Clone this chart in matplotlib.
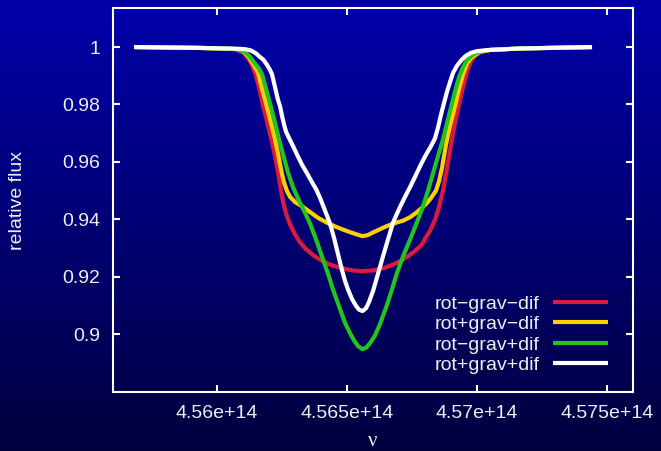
import numpy as np
import matplotlib
matplotlib.use('Agg')
import matplotlib.pyplot as plt

# frequencies in units of 1e14 Hz, fluxes
nu_red = [4.556808, 4.559346, 4.560731, 4.561000, 4.561192, 4.561346, 4.561461, 4.561615,
          4.561769, 4.561923, 4.562077, 4.562231, 4.562346, 4.562461, 4.562538, 4.562654,
          4.562808, 4.563000, 4.563192, 4.563423, 4.563692, 4.563961, 4.564346, 4.564731,
          4.565192, 4.565596, 4.566038, 4.566461, 4.566846, 4.567154, 4.567423, 4.567615,
          4.567807, 4.567923, 4.568000, 4.568192, 4.568384, 4.568538, 4.568692, 4.568846,
          4.569000, 4.569153, 4.569307, 4.569461, 4.569615, 4.569769, 4.569923, 4.570115,
          4.570500, 4.571653, 4.574423]
flux_red = [1.0, 0.9997, 0.9993, 0.9982, 0.9962, 0.9937, 0.9910, 0.9860,
            0.9795, 0.9740, 0.9683, 0.9620, 0.9565, 0.9500, 0.9462, 0.9420,
            0.9382, 0.9347, 0.9320, 0.9296, 0.9275, 0.9259, 0.9242, 0.9231,
            0.9222, 0.9219, 0.9222, 0.9231, 0.9245, 0.9260, 0.9276, 0.9290,
            0.9305, 0.9318, 0.9332, 0.9360, 0.9398, 0.9443, 0.9500, 0.9578,
            0.9660, 0.9735, 0.9800, 0.9860, 0.9915, 0.9950, 0.9970, 0.9982,
            0.9990, 0.9995, 1.0]

nu_yel = [4.556808, 4.559346, 4.560731, 4.561038, 4.561231, 4.561423, 4.561577, 4.561731,
          4.561911, 4.562077, 4.562231, 4.562365, 4.562488, 4.562577, 4.562692, 4.562808,
          4.563000, 4.563308, 4.563577, 4.563884, 4.564231, 4.564538, 4.564846, 4.565115,
          4.565346, 4.565596, 4.565807, 4.566000, 4.566192, 4.566500, 4.566846, 4.567154,
          4.567423, 4.567653, 4.567884, 4.568077, 4.568230, 4.568423, 4.568538, 4.568654,
          4.568807, 4.568961, 4.569153, 4.569307, 4.569461, 4.569615, 4.569769, 4.569923,
          4.570115, 4.570500, 4.571653, 4.574423]
flux_yel = [1.0, 0.9997, 0.9993, 0.9983, 0.9963, 0.9935, 0.9910, 0.9855,
            0.9794, 0.9735, 0.9678, 0.9620, 0.9562, 0.9528, 0.9498, 0.9478,
            0.9460, 0.9443, 0.9425, 0.9405, 0.9388, 0.9375, 0.9364, 0.9355,
            0.9348, 0.9341, 0.9345, 0.9354, 0.9362, 0.9375, 0.9387, 0.9395,
            0.9407, 0.9422, 0.9440, 0.9457, 0.9474, 0.9500, 0.9532, 0.9580,
            0.9660, 0.9725, 0.9794, 0.9855, 0.9905, 0.9943, 0.9962, 0.9972,
            0.9983, 0.9990, 0.9995, 1.0]

nu_grn = [4.556808, 4.559346, 4.560731, 4.561077, 4.561269, 4.561461, 4.561577, 4.561731,
          4.561884, 4.562065, 4.562231, 4.562385, 4.562558, 4.562731, 4.562923, 4.563115,
          4.563346, 4.563577, 4.563808, 4.564038, 4.564269, 4.564461, 4.564692, 4.564923,
          4.565115, 4.565269, 4.565423, 4.565596, 4.565731, 4.565884, 4.566077, 4.566269,
          4.566500, 4.566692, 4.566923, 4.567154, 4.567423, 4.567692, 4.567923, 4.568115,
          4.568307, 4.568500, 4.568692, 4.568846, 4.569000, 4.569153, 4.569307, 4.569461,
          4.569615, 4.569769, 4.569961, 4.570192, 4.570500, 4.571653, 4.574423]
flux_grn = [1.0, 0.9997, 0.9993, 0.9983, 0.9966, 0.9942, 0.9930, 0.9905,
            0.9855, 0.9794, 0.9735, 0.9678, 0.9620, 0.9562, 0.9512, 0.9472,
            0.9430, 0.9385, 0.9330, 0.9270, 0.9210, 0.9155, 0.9097, 0.9039,
            0.9003, 0.8978, 0.8958, 0.8947, 0.8952, 0.8968, 0.8995, 0.9035,
            0.9092, 0.9145, 0.9213, 0.9270, 0.9329, 0.9390, 0.9445, 0.9500,
            0.9560, 0.9620, 0.9678, 0.9735, 0.9790, 0.9845, 0.9895, 0.9930,
            0.9955, 0.9968, 0.9980, 0.9986, 0.9990, 0.9995, 1.0]

nu_wht = [4.556808, 4.559346, 4.560885, 4.561115, 4.561308, 4.561500, 4.561654, 4.561781,
          4.561923, 4.562038, 4.562115, 4.562231, 4.562346, 4.562423, 4.562500, 4.562577,
          4.562654, 4.562769, 4.562923, 4.563115, 4.563269, 4.563450, 4.563615, 4.563808,
          4.563961, 4.564154, 4.564346, 4.564500, 4.564654, 4.564808, 4.564923, 4.565038,
          4.565192, 4.565346, 4.565461, 4.565596, 4.565731, 4.565846, 4.566000, 4.566192,
          4.566384, 4.566577, 4.566769, 4.566923, 4.567077, 4.567230, 4.567423, 4.567653,
          4.567846, 4.568038, 4.568230, 4.568384, 4.568500, 4.568615, 4.568730, 4.568846,
          4.568961, 4.569077, 4.569230, 4.569411, 4.569577, 4.569769, 4.570000, 4.570500,
          4.571653, 4.574423]
flux_wht = [1.0, 0.9997, 0.9994, 0.9992, 0.9988, 0.9978, 0.9965, 0.9956,
            0.9938, 0.9920, 0.9905, 0.9860, 0.9815, 0.9794, 0.9760, 0.9730,
            0.9705, 0.9683, 0.9655, 0.9618, 0.9590, 0.9562, 0.9535, 0.9505,
            0.9475, 0.9430, 0.9385, 0.9335, 0.9278, 0.9222, 0.9185, 0.9155,
            0.9122, 0.9098, 0.9085, 0.9080, 0.9090, 0.9112, 0.9150, 0.9210,
            0.9271, 0.9330, 0.9388, 0.9420, 0.9450, 0.9478, 0.9512, 0.9555,
            0.9592, 0.9625, 0.9655, 0.9682, 0.9720, 0.9765, 0.9805, 0.9845,
            0.9878, 0.9910, 0.9935, 0.9956, 0.9970, 0.9980, 0.9986, 0.9990,
            0.9995, 1.0]

labels = ['rot\u2212grav\u2212dif', 'rot+grav\u2212dif', 'rot\u2212grav+dif', 'rot+grav+dif']
colors = ['#dc1a3c', '#ffd000', '#22c41e', '#ffffff']

xticks = [4.56e14, 4.565e14, 4.57e14, 4.575e14]
xticklabels = ['4.56e+14', '4.565e+14', '4.57e+14', '4.575e+14']
yticks = [0.9, 0.92, 0.94, 0.96, 0.98, 1.0]
yticklabels = ['0.9', '0.92', '0.94', '0.96', '0.98', '1']

txt = '#eeeeee'
plt.rcParams['font.family'] = ['Liberation Sans', 'DejaVu Sans']

fig = plt.figure(figsize=(6.61, 4.51), dpi=100)

# blue gradient background
bg = fig.add_axes([0, 0, 1, 1], zorder=0)
g = np.linspace(0, 1, 256)[:, None]
top = np.array([0, 0, 170]) / 255
bot = np.array([0, 0, 62]) / 255
img = (top[None, None, :] * (1 - g[:, :, None]) + bot[None, None, :] * g[:, :, None])
bg.imshow(img, aspect='auto', extent=[0, 1, 0, 1])
bg.axis('off')

ax = fig.add_axes([0.171, 0.1308, 0.7867, 0.8514], zorder=1)
ax.set_facecolor('none')

series = [(nu_red, flux_red), (nu_yel, flux_yel), (nu_grn, flux_grn), (nu_wht, flux_wht)]
for (nu, fl), c, lab in zip(series, colors, labels):
    ax.plot(np.array(nu) * 1e14, fl, color=c, lw=3, label=lab,
            solid_joinstyle='round', solid_capstyle='butt')

ax.set_xlim(4.556e14, 4.576e14)
ax.set_ylim(0.8798, 1.0136)
ax.set_xticks(xticks)
ax.set_xticklabels(xticklabels)
ax.set_yticks(yticks)
ax.set_yticklabels(yticklabels)

for s in ax.spines.values():
    s.set_color('white')
    s.set_linewidth(1.5)
ax.tick_params(direction='in', length=5, width=1.5, color='white', labelcolor=txt,
               labelsize=14, top=True, right=True, pad=9)

fig.text(0.0272, 0.5565, 'relative flux', rotation=90, ha='center', va='center',
         color=txt, fontsize=14)
fig.text(0.5643, 0.022, '\u03bd', ha='center', va='center', color=txt, fontsize=15,
         family=['Liberation Serif', 'DejaVu Serif'])

leg = ax.legend(loc='upper right', bbox_to_anchor=(0.952, 0.252), markerfirst=False,
                frameon=False, fontsize=14, handlelength=2.83, handletextpad=0.7,
                labelspacing=0.14, borderaxespad=0, borderpad=0)
for t in leg.get_texts():
    t.set_color(txt)

plt.savefig('out.png', dpi=100)
